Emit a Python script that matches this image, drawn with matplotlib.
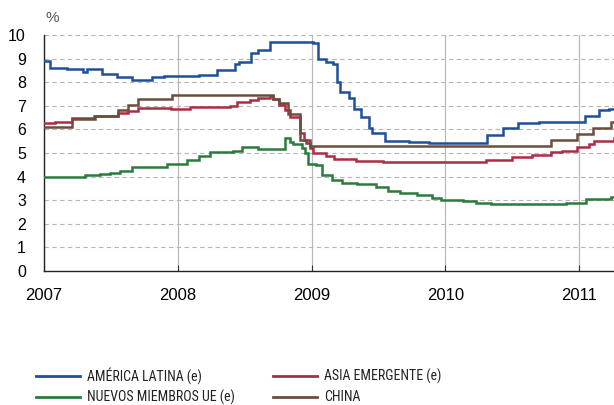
import matplotlib
matplotlib.use('Agg')
import matplotlib.pyplot as plt
from matplotlib.lines import Line2D

# Tipos de interés oficiales (%), series escalonadas en fracción de año
latam_t = [2007.00, 2007.045, 2007.17, 2007.29, 2007.32, 2007.43, 2007.545, 2007.66,
           2007.81, 2007.90, 2008.16, 2008.29, 2008.43, 2008.46, 2008.55, 2008.60,
           2008.69, 2009.01, 2009.05, 2009.11, 2009.16, 2009.19, 2009.21, 2009.28,
           2009.32, 2009.37, 2009.43, 2009.455, 2009.545, 2009.73, 2009.88, 2010.31,
           2010.43, 2010.54, 2010.70, 2011.04, 2011.15, 2011.22, 2011.26]
latam_v = [8.9, 8.6, 8.55, 8.45, 8.55, 8.35, 8.2, 8.1,
           8.2, 8.25, 8.3, 8.5, 8.75, 8.85, 9.25, 9.35,
           9.7, 9.65, 9.0, 8.87, 8.75, 8.0, 7.6, 7.32,
           6.85, 6.54, 6.05, 5.83, 5.52, 5.46, 5.43, 5.75,
           6.05, 6.25, 6.3, 6.56, 6.82, 6.85, 6.85]

asia_t = [2007.00, 2007.08, 2007.21, 2007.37, 2007.55, 2007.63, 2007.70, 2007.95,
          2008.09, 2008.39, 2008.44, 2008.54, 2008.60, 2008.69, 2008.71, 2008.76,
          2008.80, 2008.84, 2008.91, 2008.94, 2008.99, 2009.01, 2009.11, 2009.17,
          2009.33, 2009.53, 2010.20, 2010.30, 2010.50, 2010.65, 2010.79, 2010.87,
          2010.98, 2011.07, 2011.11, 2011.26]
asia_v = [6.28, 6.3, 6.5, 6.55, 6.68, 6.78, 6.9, 6.87,
          6.95, 7.0, 7.15, 7.26, 7.35, 7.4, 7.27, 7.05,
          6.82, 6.54, 5.83, 5.55, 5.2, 4.98, 4.88, 4.74,
          4.65, 4.6, 4.6, 4.7, 4.82, 4.9, 5.05, 5.1,
          5.25, 5.37, 5.52, 5.65]

nme_t = [2007.00, 2007.22, 2007.31, 2007.42, 2007.49, 2007.57, 2007.66, 2007.92,
         2008.07, 2008.16, 2008.24, 2008.41, 2008.48, 2008.60, 2008.80, 2008.84,
         2008.86, 2008.93, 2008.95, 2008.97, 2009.03, 2009.08, 2009.15, 2009.23,
         2009.34, 2009.48, 2009.57, 2009.66, 2009.79, 2009.90, 2009.97, 2010.13,
         2010.23, 2010.34, 2010.90, 2011.05, 2011.24, 2011.26]
nme_v = [4.0, 3.97, 4.05, 4.1, 4.17, 4.24, 4.4, 4.55,
         4.7, 4.87, 5.05, 5.1, 5.24, 5.17, 5.63, 5.48,
         5.38, 5.2, 4.98, 4.55, 4.5, 4.07, 3.86, 3.75,
         3.7, 3.57, 3.38, 3.3, 3.2, 3.08, 3.0, 2.95,
         2.9, 2.83, 2.87, 3.04, 3.14, 3.14]

china_t = [2007.00, 2007.21, 2007.38, 2007.55, 2007.63, 2007.70, 2007.96, 2008.71,
           2008.76, 2008.82, 2008.91, 2008.96, 2008.99, 2010.79, 2010.98, 2011.10,
           2011.24, 2011.26]
china_v = [6.1, 6.43, 6.56, 6.82, 7.03, 7.29, 7.46, 7.3,
           7.1, 6.65, 5.55, 5.43, 5.31, 5.55, 5.8, 6.06,
           6.3, 6.3]

series = [
    ('AMÉRICA LATINA (e)', latam_t, latam_v, '#1f4f9a'),
    ('ASIA EMERGENTE (e)', asia_t, asia_v, '#ad2b45'),
    ('NUEVOS MIEMBROS UE (e)', nme_t, nme_v, '#2a7b3c'),
    ('CHINA', china_t, china_v, '#6b4f3c'),
]

years = [2007, 2008, 2009, 2010, 2011]
yticks = list(range(0, 11))

plt.rcParams['font.family'] = ['Liberation Sans', 'DejaVu Sans']

fig = plt.figure(figsize=(6.14, 4.05), dpi=100)
ax = fig.add_axes([44 / 614, 1 - 271 / 405, 1 - 44 / 614, 236 / 405])

for y in yticks[1:]:
    ax.axhline(y, color='#b5b5b5', lw=0.8, ls=(0, (4, 3)), zorder=1)
for yr in years[1:]:
    ax.axvline(yr, color='#b8b8b8', lw=0.9, zorder=1)

for name, t, v, c in series:
    ax.plot(t, v, drawstyle='steps-post', color=c, lw=1.8, zorder=3,
            solid_joinstyle='miter')

ax.set_xlim(2007, 2011.26)
ax.set_ylim(0, 10)
ax.set_xticks(years)
ax.set_xticklabels([str(y) for y in years], fontsize=12)
ax.set_yticks(yticks)
ax.set_yticklabels([str(y) for y in yticks], fontsize=11.5)
ax.tick_params(axis='x', direction='in', length=4, width=0.8, color='#333333', pad=12)
ax.tick_params(axis='y', length=0, pad=13)
for side in ['top', 'right']:
    ax.spines[side].set_visible(False)
for side in ['left', 'bottom']:
    ax.spines[side].set_color('#222222')
    ax.spines[side].set_linewidth(1.0)

fig.text(46 / 614, 1 - 18 / 405, '%', fontsize=11, color='#555555', va='center')

# Leyenda en dos columnas bajo el gráfico
legend_font = ['Roboto Condensed', 'Liberation Sans Narrow', 'Liberation Sans', 'DejaVu Sans']
legend_pos = [(36, 376), (273, 376), (36, 397), (273, 397)]
for (name, t, v, c), (x0, y0) in zip(series, legend_pos):
    yf = 1 - y0 / 405
    fig.add_artist(Line2D([x0 / 614, (x0 + 44) / 614], [yf, yf], color=c, lw=2.0,
                          transform=fig.transFigure))
    fig.text((x0 + 51) / 614, yf, name, fontsize=10, va='center', color='#222222',
             family=legend_font)

fig.savefig('out.png', dpi=100)
